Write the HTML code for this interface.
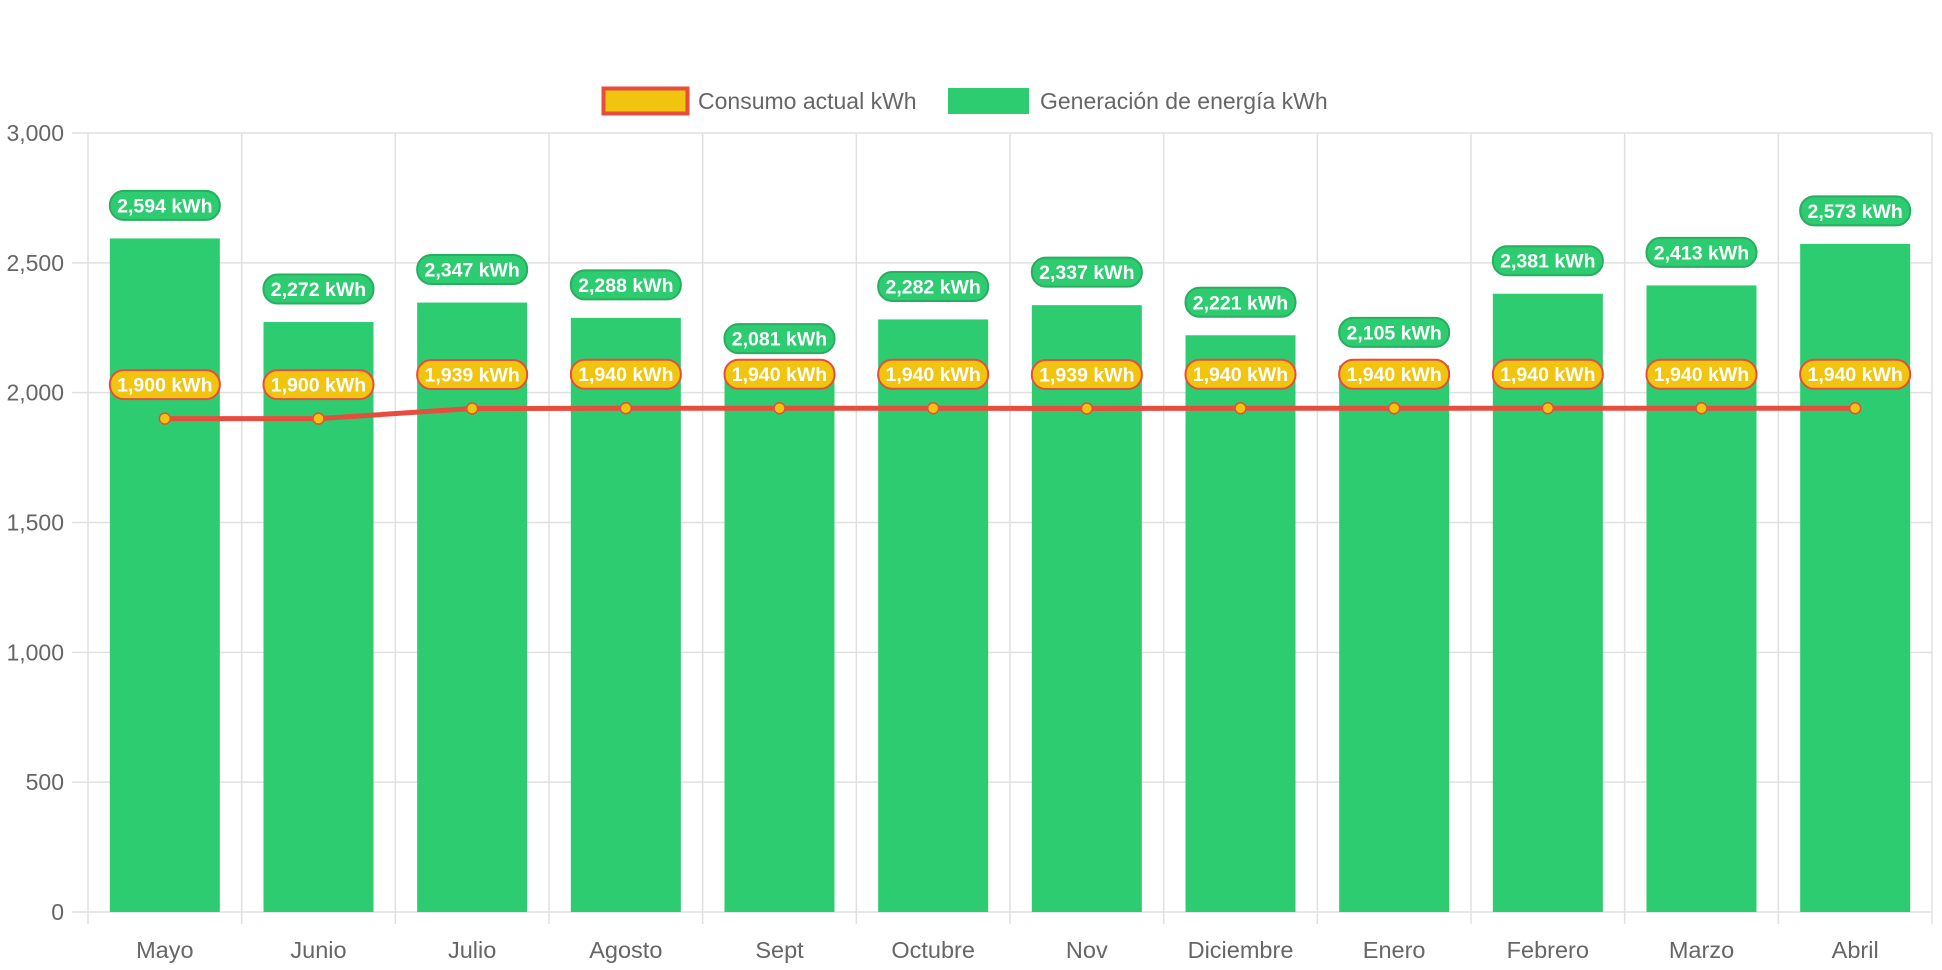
<!DOCTYPE html>
<html><head><meta charset="utf-8"><style>
html,body{margin:0;padding:0;background:#fff;}
svg{display:block;font-family:"Liberation Sans",sans-serif;}
</style></head><body>
<svg width="1942" height="970" xmlns="http://www.w3.org/2000/svg">
<!-- legend -->
<rect x="603.5" y="88.5" width="84" height="25" fill="#f1c40f" stroke="#e74c3c" stroke-width="4"/>
<text x="698" y="109" font-size="23" fill="#666">Consumo actual kWh</text>
<rect x="948" y="88" width="81" height="26" fill="#2ecc71"/>
<text x="1040" y="109" font-size="23" fill="#666">Generación de energía kWh</text>
<g id="grid" stroke="#e0e0e0" stroke-width="1.5"></g>
<g id="bars"></g>
<g id="line"></g>
<g id="labels"></g>
</svg>
<script>
const ns="http://www.w3.org/2000/svg";
function el(t,a,p,txt){const e=document.createElementNS(ns,t);for(const k in a)e.setAttribute(k,a[k]);if(txt!==undefined)e.textContent=txt;document.getElementById(p).appendChild(e);return e;}
const L=88,R=1932,T=133,B=912;
const y=v=>B-(v/3000)*(B-T);
const cw=(R-L)/12;
const months=["Mayo","Junio","Julio","Agosto","Sept","Octubre","Nov","Diciembre","Enero","Febrero","Marzo","Abril"];
const gen=[2594,2272,2347,2288,2081,2282,2337,2221,2105,2381,2413,2573];
const con=[1900,1900,1939,1940,1940,1940,1939,1940,1940,1940,1940,1940];
for(let i=0;i<=6;i++){const yy=y(i*500);el("line",{x1:72,x2:R,y1:yy,y2:yy},"grid");
 el("text",{x:64,y:yy+8,"font-size":"23","text-anchor":"end",fill:"#666"},"labels",(i*500).toLocaleString("en-US"));}
for(let i=0;i<=12;i++){const xx=L+i*cw;el("line",{x1:xx,x2:xx,y1:T,y2:B+12},"grid");}
const fmt=v=>v.toLocaleString("en-US")+" kWh";
let pts=[];
gen.forEach((v,i)=>{const cx=L+cw*(i+0.5);
 el("rect",{x:cx-55,y:y(v),width:110,height:B-y(v),fill:"#2ecc71"},"bars");
 const ly=y(v)-33;
 el("rect",{x:cx-55,y:ly-14.5,width:110,height:29,rx:14,fill:"#2ecc71",stroke:"#27ae60","stroke-width":2},"labels");
 el("text",{x:cx,y:ly+7,"font-size":"19.5","font-weight":"bold","text-anchor":"middle",fill:"#fff"},"labels",fmt(v));
 pts.push([cx,y(con[i])]);
});
let d="M"+pts.map(p=>p.join(",")).join(" L");
el("path",{d:d,fill:"none",stroke:"#e74c3c","stroke-width":5,"stroke-linejoin":"round"},"line");
pts.forEach((p,i)=>{el("circle",{cx:p[0],cy:p[1],r:5.5,fill:"#f1c40f",stroke:"#e74c3c","stroke-width":1.5},"line");
 const ly=p[1]-34;
 el("rect",{x:p[0]-55,y:ly-14.5,width:110,height:29,rx:14,fill:"#f1c40f",stroke:"#e74c3c","stroke-width":2},"labels");
 el("text",{x:p[0],y:ly+7,"font-size":"19.5","font-weight":"bold","text-anchor":"middle",fill:"#fff"},"labels",fmt(con[i]));
 el("text",{x:p[0],y:958,"font-size":"23.5","text-anchor":"middle",fill:"#666"},"labels",months[i]);
});
</script>
</body></html>
